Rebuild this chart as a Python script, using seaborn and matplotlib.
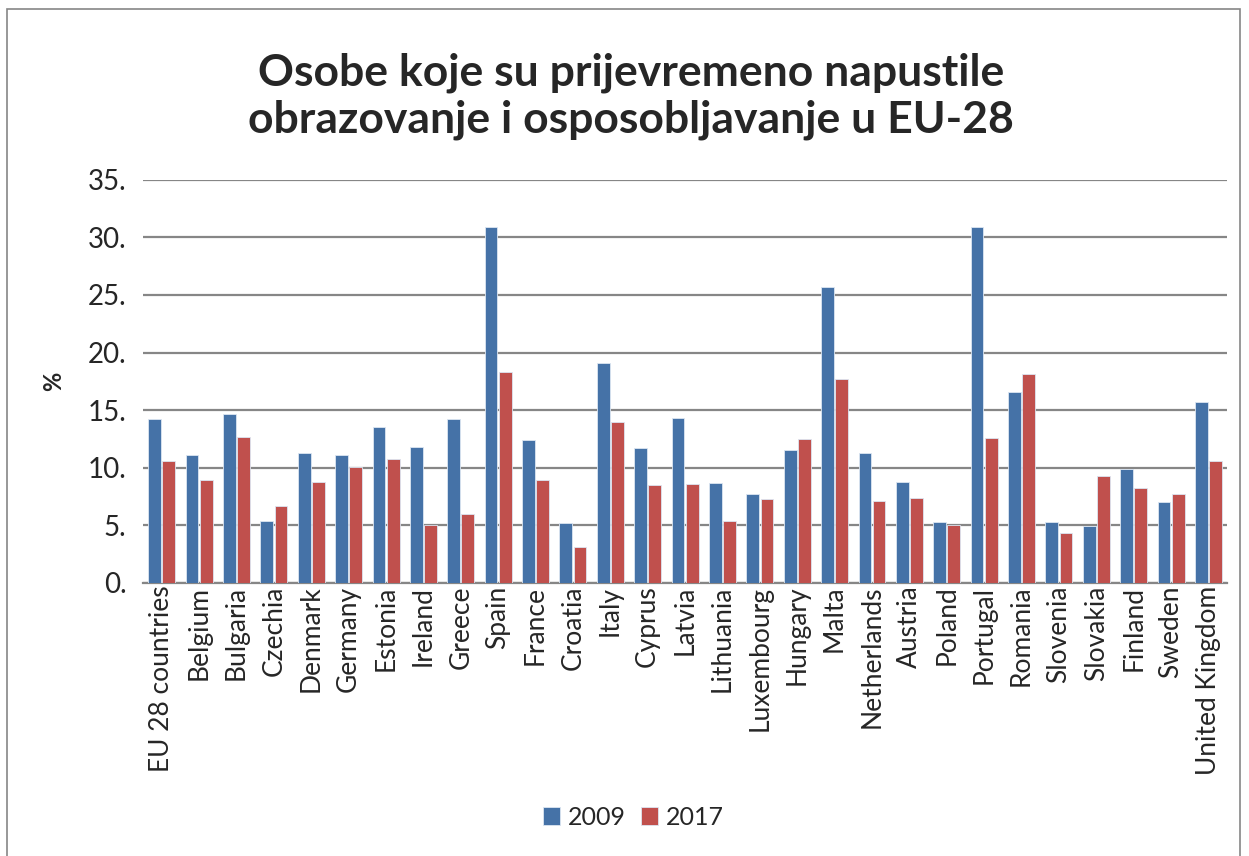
import matplotlib
matplotlib.use("Agg")
import matplotlib.pyplot as plt
import seaborn as sns
import pandas as pd
from matplotlib.patches import Rectangle

# podaci procitani sa grafa (%)
countries = ['EU 28 countries', 'Belgium', 'Bulgaria', 'Czechia', 'Denmark', 'Germany',
             'Estonia', 'Ireland', 'Greece', 'Spain', 'France', 'Croatia', 'Italy',
             'Cyprus', 'Latvia', 'Lithuania', 'Luxembourg', 'Hungary', 'Malta',
             'Netherlands', 'Austria', 'Poland', 'Portugal', 'Romania', 'Slovenia',
             'Slovakia', 'Finland', 'Sweden', 'United Kingdom']
y2009 = [14.2, 11.1, 14.7, 5.4, 11.3, 11.1, 13.5, 11.8, 14.2, 30.9, 12.4, 5.2, 19.1,
         11.7, 14.3, 8.7, 7.7, 11.5, 25.7, 11.3, 8.8, 5.3, 30.9, 16.6, 5.3, 4.9, 9.9,
         7.0, 15.7]
y2017 = [10.6, 8.9, 12.7, 6.7, 8.8, 10.1, 10.8, 5.0, 6.0, 18.3, 8.9, 3.1, 14.0,
         8.5, 8.6, 5.4, 7.3, 12.5, 17.7, 7.1, 7.4, 5.0, 12.6, 18.1, 4.3, 9.3, 8.2,
         7.7, 10.6]
years = ['2009', '2017']
yticks = [0, 5, 10, 15, 20, 25, 30, 35]

df = pd.DataFrame({
    'country': countries * 2,
    'value': y2009 + y2017,
    'year': [years[0]] * len(countries) + [years[1]] * len(countries),
})

sns.set_style("white")
plt.rcParams['font.family'] = ['Lato', 'DejaVu Sans']

fig = plt.figure(figsize=(12.49, 8.56), dpi=100)
ax = fig.add_axes([0.1145, 0.319, 0.868, 0.471])

sns.barplot(data=df, x='country', y='value', hue='year', order=countries,
            hue_order=years, palette=['#4572A7', '#C0504D'], saturation=1,
            width=0.76, gap=0.1, edgecolor='#DCE6F2', linewidth=0.6, ax=ax, zorder=3)

ax.set_ylim(0, 35)
ax.set_xlim(-0.5, len(countries) - 0.5)
ax.set_yticks(yticks)
ax.set_yticklabels([f"{t}." for t in yticks], fontsize=20)
ax.yaxis.grid(True, color='#868686', linewidth=1.6, zorder=0)
ax.set_axisbelow(True)
for s in ['left', 'right', 'top']:
    ax.spines[s].set_visible(False)
ax.spines['bottom'].set_color('#868686')
ax.spines['bottom'].set_linewidth(1.6)
ax.tick_params(axis='y', length=0, pad=12)
ax.tick_params(axis='x', length=0, pad=2)
plt.setp(ax.get_xticklabels(), rotation=90, fontsize=19)
ax.set_xlabel('')
ax.set_ylabel('%', fontsize=17, fontweight='bold', labelpad=16)

leg = ax.legend(loc='center', bbox_to_anchor=(0.507, 0.045), bbox_transform=fig.transFigure,
                ncol=2, frameon=False, fontsize=18, handlelength=0.7, handleheight=0.7,
                columnspacing=0.6, handletextpad=0.3)

fig.text(0.505, 0.888, 'Osobe koje su prijevremeno napustile\nobrazovanje i osposobljavanje u EU-28',
         ha='center', va='center', fontsize=32, fontweight='bold', linespacing=1.2)

fig.patches.append(Rectangle((0.006, -0.01), 0.987, 1.0, transform=fig.transFigure,
                             fill=False, edgecolor='#868686', linewidth=1.2))

fig.savefig('out.png', dpi=100)
